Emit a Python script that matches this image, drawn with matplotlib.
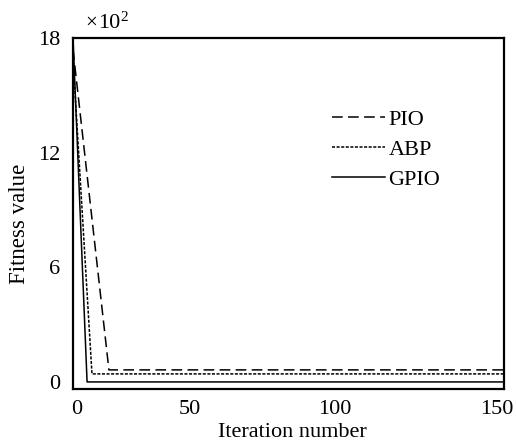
import matplotlib
matplotlib.use("Agg")
import matplotlib.pyplot as plt

# Data (values in units of 10^2)
pio_x = [0, 12.5, 150]
pio_y = [17.4, 0.63, 0.63]
abp_x = [0, 6.6, 150]
abp_y = [16.9, 0.42, 0.42]
gpio_x = [0, 4.9, 150]
gpio_y = [18.0, 0.0, 0.0]

xtick_pos = [1.4, 40.5, 91.0, 147.6]
xtick_labels = ["0", "50", "100", "150"]
ytick_vals = [0, 6, 12, 18]
ytick_labels = ["0", "6", "12", "18"]

plt.rcParams['font.family'] = 'serif'
plt.rcParams['font.serif'] = ['Liberation Serif', 'DejaVu Serif']

W, H = 516, 447
fig = plt.figure(figsize=(W/100, H/100), dpi=100)
ax = fig.add_axes([73/W, 1 - 389/H, (504-73)/W, (389-38)/H])

ax.plot(pio_x, pio_y, color='black', lw=1.1, linestyle=(0, (7, 3.5)), label='PIO')
ax.plot(abp_x, abp_y, color='black', lw=1.1, linestyle=(0, (2, 1)), label='ABP')
ax.plot(gpio_x, gpio_y, color='black', lw=1.1, linestyle='-', label='GPIO')

ax.set_xlim(0, 150)
ax.set_ylim(-0.37, 18)
ax.set_xticks(xtick_pos, labels=xtick_labels)
ax.set_yticks(ytick_vals, labels=ytick_labels)
ax.tick_params(length=0, labelsize=16, pad=8)
ax.tick_params(axis='y', pad=9)
for s in ax.spines.values():
    s.set_linewidth(1.6)

ax.set_xlabel("Iteration number", fontsize=16)
ax.set_ylabel("Fitness value", fontsize=16.5)
ax.xaxis.set_label_coords(0.51, -0.098)
ax.yaxis.set_label_coords(-0.10, 0.47)

# multiplier "×10²"
fig.text(85/W, 1 - 28/H, "×", fontsize=15, va='baseline', ha='left')
fig.text(98/W, 1 - 28/H, "10", fontsize=16, va='baseline', ha='left')
fig.text(120/W, 1 - 21/H, "2", fontsize=11, va='baseline', ha='left')

leg = ax.legend(loc='upper left', bbox_to_anchor=(0.58, 0.821), frameon=False,
                fontsize=16, handlelength=2.4, handletextpad=0.15,
                labelspacing=0.42, borderaxespad=0)

fig.savefig("out.png", dpi=100)
